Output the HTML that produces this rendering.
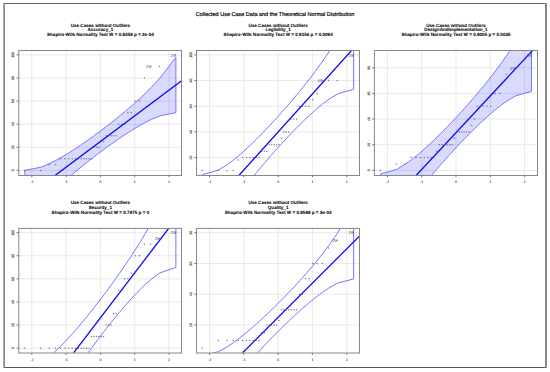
<!DOCTYPE html>
<html><head><meta charset="utf-8"><style>
html,body{margin:0;padding:0;background:#fff;width:550px;height:372px;overflow:hidden}
svg{display:block;font-family:"Liberation Sans", sans-serif;text-rendering:geometricPrecision}
</style></head><body>
<svg width="550" height="372" viewBox="0 0 550 372">
<rect width="550" height="372" fill="#fff"/>
<clipPath id="c00"><rect x="18.9" y="50.3" width="163" height="124.7"/></clipPath>
<path d="M31.8 50.3V175M66.1 50.3V175M100.4 50.3V175M134.7 50.3V175M169 50.3V175M18.9 170.38H181.9M18.9 147.29H181.9M18.9 124.2H181.9M18.9 101.1H181.9M18.9 78.01H181.9M18.9 54.92H181.9" stroke="#e2e2e2" stroke-width="0.75" fill="none"/>
<path clip-path="url(#c00)" d="M24.92 170.32 41 167.16 49.64 163.54 55.89 160.38 60.94 157.58 65.26 155.04 69.07 152.69 72.54 150.5 75.74 148.41 78.74 146.42 81.58 144.49 84.3 142.62 86.93 140.79 89.47 138.99 91.96 137.21 94.4 135.44 96.81 133.67 99.21 131.89 101.59 130.11 103.99 128.29 106.4 126.45 108.84 124.56 111.33 122.62 113.87 120.61 116.5 118.52 119.22 116.32 122.06 113.99 125.06 111.49 128.26 108.78 131.73 105.79 135.54 102.42 139.86 98.5 144.91 93.74 151.16 87.53 159.8 78.23 175.88 57.31 175.88 112.71 159.8 115.87 151.16 119.49 144.91 122.65 139.86 125.45 135.54 127.99 131.73 130.34 128.26 132.53 125.06 134.62 122.06 136.61 119.22 138.54 116.5 140.41 113.87 142.24 111.33 144.04 108.84 145.82 106.4 147.6 103.99 149.36 101.59 151.14 99.21 152.93 96.81 154.74 94.4 156.58 91.96 158.47 89.47 160.41 86.93 162.42 84.3 164.51 81.58 166.71 78.74 169.04 75.74 171.54 72.54 174.25 69.07 177.24 65.26 180.61 60.94 184.53 55.89 189.29 49.64 195.5 41 204.8 24.92 225.72Z" fill="#0000ff" fill-opacity="0.145" stroke="#7474ff" stroke-width="1"/>
<line clip-path="url(#c00)" x1="18.9" y1="202.53" x2="181.9" y2="80.5" stroke="#0808f8" stroke-width="1.3"/>
<g fill="#555566" fill-opacity="0.75"><circle cx="24.52" cy="170.38" r="0.75"/><circle cx="40.6" cy="170.38" r="0.75"/><circle cx="49.24" cy="164.61" r="0.75"/><circle cx="55.49" cy="164.61" r="0.75"/><circle cx="60.54" cy="158.84" r="0.75"/><circle cx="64.86" cy="158.84" r="0.75"/><circle cx="68.67" cy="158.84" r="0.75"/><circle cx="72.14" cy="158.84" r="0.75"/><circle cx="75.34" cy="158.84" r="0.75"/><circle cx="78.34" cy="158.84" r="0.75"/><circle cx="81.18" cy="158.84" r="0.75"/><circle cx="83.9" cy="158.84" r="0.75"/><circle cx="86.53" cy="158.84" r="0.75"/><circle cx="89.07" cy="158.84" r="0.75"/><circle cx="91.56" cy="158.84" r="0.75"/><circle cx="94" cy="147.29" r="0.75"/><circle cx="96.41" cy="147.29" r="0.75"/><circle cx="98.81" cy="147.29" r="0.75"/><circle cx="101.19" cy="141.52" r="0.75"/><circle cx="103.59" cy="141.52" r="0.75"/><circle cx="106" cy="135.74" r="0.75"/><circle cx="108.44" cy="135.74" r="0.75"/><circle cx="110.93" cy="135.74" r="0.75"/><circle cx="113.47" cy="135.74" r="0.75"/><circle cx="116.1" cy="135.74" r="0.75"/><circle cx="118.82" cy="124.2" r="0.75"/><circle cx="121.66" cy="124.2" r="0.75"/><circle cx="124.66" cy="124.2" r="0.75"/><circle cx="127.86" cy="112.65" r="0.75"/><circle cx="131.33" cy="112.65" r="0.75"/><circle cx="135.14" cy="101.1" r="0.75"/><circle cx="139.46" cy="101.1" r="0.75"/><circle cx="144.51" cy="78.01" r="0.75"/><circle cx="150.76" cy="66.46" r="0.75"/><circle cx="159.4" cy="66.46" r="0.75"/><circle cx="175.48" cy="54.92" r="0.75"/></g>
<text x="175.48" y="56.72" font-size="4.2" text-anchor="end" fill="#555">26</text>
<text x="150.76" y="68.26" font-size="4.2" text-anchor="end" fill="#555">25</text>
<rect x="18.8" y="50.5" width="162.7" height="125" fill="none" stroke="#878787" stroke-width="1"/>
<path d="M31.8 175.5v1.8M66.1 175.5v1.8M100.4 175.5v1.8M134.7 175.5v1.8M169 175.5v1.8M18.8 170.38h-2.2M18.8 147.29h-2.2M18.8 124.2h-2.2M18.8 101.1h-2.2M18.8 78.01h-2.2M18.8 54.92h-2.2" stroke="#555" stroke-width="0.8" fill="none"/>
<text x="31.8" y="182.8" font-size="3.5" text-anchor="middle" fill="#333" stroke="#444" stroke-width="0.1">-2</text>
<text x="66.1" y="182.8" font-size="3.5" text-anchor="middle" fill="#333" stroke="#444" stroke-width="0.1">-1</text>
<text x="100.4" y="182.8" font-size="3.5" text-anchor="middle" fill="#333" stroke="#444" stroke-width="0.1">0</text>
<text x="134.7" y="182.8" font-size="3.5" text-anchor="middle" fill="#333" stroke="#444" stroke-width="0.1">1</text>
<text x="169" y="182.8" font-size="3.5" text-anchor="middle" fill="#333" stroke="#444" stroke-width="0.1">2</text>
<text transform="translate(14.05 170.38) rotate(-90)" font-size="3.5" text-anchor="middle" fill="#333" stroke="#444" stroke-width="0.1">0</text>
<text transform="translate(14.05 147.29) rotate(-90)" font-size="3.5" text-anchor="middle" fill="#333" stroke="#444" stroke-width="0.1">20</text>
<text transform="translate(14.05 124.2) rotate(-90)" font-size="3.5" text-anchor="middle" fill="#333" stroke="#444" stroke-width="0.1">40</text>
<text transform="translate(14.05 101.1) rotate(-90)" font-size="3.5" text-anchor="middle" fill="#333" stroke="#444" stroke-width="0.1">60</text>
<text transform="translate(14.05 78.01) rotate(-90)" font-size="3.5" text-anchor="middle" fill="#333" stroke="#444" stroke-width="0.1">80</text>
<text transform="translate(14.05 54.92) rotate(-90)" font-size="3.5" text-anchor="middle" fill="#333" stroke="#444" stroke-width="0.1">100</text>
<text x="100.4" y="26.5" font-size="4.6" font-weight="bold" text-anchor="middle" fill="#000" stroke="#000" stroke-width="0.05">Use Cases without Outliers</text>
<text x="100.4" y="31" font-size="4.6" font-weight="bold" text-anchor="middle" fill="#000" stroke="#000" stroke-width="0.05">Accuracy_1</text>
<text x="100.4" y="36.1" font-size="4.6" font-weight="bold" text-anchor="middle" fill="#000" stroke="#000" stroke-width="0.05">Shapiro-Wilk Normality Test W = 0.8458 p = 2e-04</text>
<clipPath id="c10"><rect x="196.65" y="50.3" width="163" height="124.7"/></clipPath>
<path d="M209.55 50.3V175M243.85 50.3V175M278.15 50.3V175M312.45 50.3V175M346.75 50.3V175M196.65 157.55H359.65M196.65 131.89H359.65M196.65 106.24H359.65M196.65 80.58H359.65M196.65 54.92H359.65" stroke="#e2e2e2" stroke-width="0.75" fill="none"/>
<path clip-path="url(#c10)" d="M202.67 174.56 218.75 169.89 227.39 164.52 233.64 159.84 238.69 155.69 243.01 151.93 246.82 148.45 250.29 145.2 253.49 142.11 256.49 139.16 259.33 136.3 262.05 133.53 264.68 130.82 267.22 128.15 269.71 125.51 272.15 122.89 274.56 120.27 276.96 117.64 279.34 114.99 281.74 112.31 284.15 109.58 286.59 106.78 289.08 103.91 291.62 100.93 294.25 97.83 296.97 94.57 299.81 91.12 302.81 87.42 306.01 83.41 309.48 78.98 313.29 73.98 317.61 68.17 322.66 61.12 328.91 51.93 337.55 38.15 353.63 7.16 353.63 89.22 337.55 93.9 328.91 99.27 322.66 103.95 317.61 108.1 313.29 111.86 309.48 115.33 306.01 118.59 302.81 121.68 299.81 124.63 296.97 127.48 294.25 130.26 291.62 132.97 289.08 135.64 286.59 138.28 284.15 140.9 281.74 143.52 279.34 146.15 276.96 148.8 274.56 151.48 272.15 154.21 269.71 157 267.22 159.88 264.68 162.85 262.05 165.96 259.33 169.21 256.49 172.67 253.49 176.37 250.29 180.38 246.82 184.81 243.01 189.81 238.69 195.61 233.64 202.66 227.39 211.86 218.75 225.64 202.67 256.62Z" fill="none" stroke="#7474ff" stroke-width="1"/>
<line clip-path="url(#c10)" x1="196.65" y1="222.27" x2="359.65" y2="41.51" stroke="#0808f8" stroke-width="1.3"/>
<g fill="#555566" fill-opacity="0.75"><circle cx="202.27" cy="170.38" r="0.75"/><circle cx="218.35" cy="170.38" r="0.75"/><circle cx="226.99" cy="170.38" r="0.75"/><circle cx="233.24" cy="170.38" r="0.75"/><circle cx="238.29" cy="160.12" r="0.75"/><circle cx="242.61" cy="157.55" r="0.75"/><circle cx="246.42" cy="157.55" r="0.75"/><circle cx="249.89" cy="157.55" r="0.75"/><circle cx="253.09" cy="157.55" r="0.75"/><circle cx="256.09" cy="157.55" r="0.75"/><circle cx="258.93" cy="157.55" r="0.75"/><circle cx="261.65" cy="151.14" r="0.75"/><circle cx="264.28" cy="151.14" r="0.75"/><circle cx="266.82" cy="151.14" r="0.75"/><circle cx="269.31" cy="144.72" r="0.75"/><circle cx="271.75" cy="144.72" r="0.75"/><circle cx="274.16" cy="144.72" r="0.75"/><circle cx="276.56" cy="144.72" r="0.75"/><circle cx="278.94" cy="144.72" r="0.75"/><circle cx="281.34" cy="138.31" r="0.75"/><circle cx="283.75" cy="131.89" r="0.75"/><circle cx="286.19" cy="131.89" r="0.75"/><circle cx="288.68" cy="131.89" r="0.75"/><circle cx="291.22" cy="119.06" r="0.75"/><circle cx="293.85" cy="119.06" r="0.75"/><circle cx="296.57" cy="119.06" r="0.75"/><circle cx="299.41" cy="106.24" r="0.75"/><circle cx="302.41" cy="106.24" r="0.75"/><circle cx="305.61" cy="106.24" r="0.75"/><circle cx="309.08" cy="106.24" r="0.75"/><circle cx="312.89" cy="99.82" r="0.75"/><circle cx="317.21" cy="93.41" r="0.75"/><circle cx="322.26" cy="80.58" r="0.75"/><circle cx="328.51" cy="80.58" r="0.75"/><circle cx="337.15" cy="80.58" r="0.75"/><circle cx="353.23" cy="54.92" r="0.75"/></g>
<text x="353.23" y="56.72" font-size="4.2" text-anchor="end" fill="#555">26</text>
<text x="322.26" y="82.38" font-size="4.2" text-anchor="end" fill="#555">50</text>
<rect x="196.5" y="50.5" width="163" height="125" fill="none" stroke="#878787" stroke-width="1"/>
<path d="M209.55 175.5v1.8M243.85 175.5v1.8M278.15 175.5v1.8M312.45 175.5v1.8M346.75 175.5v1.8M196.5 157.55h-2.2M196.5 131.89h-2.2M196.5 106.24h-2.2M196.5 80.58h-2.2M196.5 54.92h-2.2" stroke="#555" stroke-width="0.8" fill="none"/>
<text x="209.55" y="182.8" font-size="3.5" text-anchor="middle" fill="#333" stroke="#444" stroke-width="0.1">-2</text>
<text x="243.85" y="182.8" font-size="3.5" text-anchor="middle" fill="#333" stroke="#444" stroke-width="0.1">-1</text>
<text x="278.15" y="182.8" font-size="3.5" text-anchor="middle" fill="#333" stroke="#444" stroke-width="0.1">0</text>
<text x="312.45" y="182.8" font-size="3.5" text-anchor="middle" fill="#333" stroke="#444" stroke-width="0.1">1</text>
<text x="346.75" y="182.8" font-size="3.5" text-anchor="middle" fill="#333" stroke="#444" stroke-width="0.1">2</text>
<text transform="translate(191.75 157.55) rotate(-90)" font-size="3.5" text-anchor="middle" fill="#333" stroke="#444" stroke-width="0.1">20</text>
<text transform="translate(191.75 131.89) rotate(-90)" font-size="3.5" text-anchor="middle" fill="#333" stroke="#444" stroke-width="0.1">40</text>
<text transform="translate(191.75 106.24) rotate(-90)" font-size="3.5" text-anchor="middle" fill="#333" stroke="#444" stroke-width="0.1">60</text>
<text transform="translate(191.75 80.58) rotate(-90)" font-size="3.5" text-anchor="middle" fill="#333" stroke="#444" stroke-width="0.1">80</text>
<text transform="translate(191.75 54.92) rotate(-90)" font-size="3.5" text-anchor="middle" fill="#333" stroke="#444" stroke-width="0.1">100</text>
<text x="278.15" y="26.5" font-size="4.6" font-weight="bold" text-anchor="middle" fill="#000" stroke="#000" stroke-width="0.05">Use Cases without Outliers</text>
<text x="278.15" y="31" font-size="4.6" font-weight="bold" text-anchor="middle" fill="#000" stroke="#000" stroke-width="0.05">Legibility_1</text>
<text x="278.15" y="36.1" font-size="4.6" font-weight="bold" text-anchor="middle" fill="#000" stroke="#000" stroke-width="0.05">Shapiro-Wilk Normality Test W = 0.9156 p = 0.0094</text>
<clipPath id="c20"><rect x="374.5" y="50.3" width="163" height="124.7"/></clipPath>
<path d="M387.4 50.3V175M421.7 50.3V175M456 50.3V175M490.3 50.3V175M524.6 50.3V175M374.5 170.38H537.5M374.5 144.72H537.5M374.5 119.06H537.5M374.5 93.41H537.5M374.5 67.75H537.5" stroke="#e2e2e2" stroke-width="0.75" fill="none"/>
<path clip-path="url(#c20)" d="M380.52 173.95 396.6 169.43 405.24 164.23 411.49 159.7 416.54 155.69 420.86 152.05 424.67 148.69 428.14 145.54 431.34 142.55 434.34 139.69 437.18 136.93 439.9 134.25 442.53 131.62 445.07 129.04 447.56 126.49 450 123.95 452.41 121.42 454.81 118.87 457.19 116.31 459.59 113.71 462 111.07 464.44 108.37 466.93 105.58 469.47 102.71 472.1 99.7 474.82 96.55 477.66 93.21 480.66 89.63 483.86 85.75 487.33 81.46 491.14 76.62 495.46 71.01 500.51 64.18 506.76 55.29 515.4 41.95 531.48 11.97 531.48 91.37 515.4 95.9 506.76 101.1 500.51 105.62 495.46 109.64 491.14 113.28 487.33 116.64 483.86 119.79 480.66 122.78 477.66 125.64 474.82 128.4 472.1 131.08 469.47 133.7 466.93 136.29 464.44 138.84 462 141.38 459.59 143.91 457.19 146.45 454.81 149.02 452.41 151.61 450 154.26 447.56 156.96 445.07 159.74 442.53 162.62 439.9 165.62 437.18 168.78 434.34 172.12 431.34 175.7 428.14 179.58 424.67 183.87 420.86 188.7 416.54 194.32 411.49 201.14 405.24 210.04 396.6 223.37 380.52 253.36Z" fill="#0000ff" fill-opacity="0.145" stroke="#7474ff" stroke-width="1"/>
<line clip-path="url(#c20)" x1="374.5" y1="220.12" x2="537.5" y2="45.21" stroke="#0808f8" stroke-width="1.3"/>
<g fill="#555566" fill-opacity="0.75"><circle cx="380.12" cy="170.38" r="0.75"/><circle cx="396.2" cy="163.97" r="0.75"/><circle cx="404.84" cy="163.97" r="0.75"/><circle cx="411.09" cy="157.55" r="0.75"/><circle cx="416.14" cy="157.55" r="0.75"/><circle cx="420.46" cy="157.55" r="0.75"/><circle cx="424.27" cy="157.55" r="0.75"/><circle cx="427.74" cy="157.55" r="0.75"/><circle cx="430.94" cy="157.55" r="0.75"/><circle cx="433.94" cy="157.55" r="0.75"/><circle cx="436.78" cy="151.14" r="0.75"/><circle cx="439.5" cy="144.72" r="0.75"/><circle cx="442.13" cy="144.72" r="0.75"/><circle cx="444.67" cy="144.72" r="0.75"/><circle cx="447.16" cy="144.72" r="0.75"/><circle cx="449.6" cy="144.72" r="0.75"/><circle cx="452.01" cy="144.72" r="0.75"/><circle cx="454.41" cy="138.31" r="0.75"/><circle cx="456.79" cy="131.89" r="0.75"/><circle cx="459.19" cy="131.89" r="0.75"/><circle cx="461.6" cy="131.89" r="0.75"/><circle cx="464.04" cy="131.89" r="0.75"/><circle cx="466.53" cy="131.89" r="0.75"/><circle cx="469.07" cy="131.89" r="0.75"/><circle cx="471.7" cy="125.48" r="0.75"/><circle cx="474.42" cy="119.06" r="0.75"/><circle cx="477.26" cy="106.24" r="0.75"/><circle cx="480.26" cy="106.24" r="0.75"/><circle cx="483.46" cy="106.24" r="0.75"/><circle cx="486.93" cy="106.24" r="0.75"/><circle cx="490.74" cy="106.24" r="0.75"/><circle cx="495.06" cy="93.41" r="0.75"/><circle cx="500.11" cy="93.41" r="0.75"/><circle cx="506.36" cy="74.16" r="0.75"/><circle cx="515" cy="67.75" r="0.75"/><circle cx="531.08" cy="54.92" r="0.75"/></g>
<text x="531.08" y="56.72" font-size="4.2" text-anchor="end" fill="#555">26</text>
<text x="515" y="69.55" font-size="4.2" text-anchor="end" fill="#555">50</text>
<rect x="374.4" y="50.5" width="163.1" height="125" fill="none" stroke="#878787" stroke-width="1"/>
<path d="M387.4 175.5v1.8M421.7 175.5v1.8M456 175.5v1.8M490.3 175.5v1.8M524.6 175.5v1.8M374.4 170.38h-2.2M374.4 144.72h-2.2M374.4 119.06h-2.2M374.4 93.41h-2.2M374.4 67.75h-2.2" stroke="#555" stroke-width="0.8" fill="none"/>
<text x="387.4" y="182.8" font-size="3.5" text-anchor="middle" fill="#333" stroke="#444" stroke-width="0.1">-2</text>
<text x="421.7" y="182.8" font-size="3.5" text-anchor="middle" fill="#333" stroke="#444" stroke-width="0.1">-1</text>
<text x="456" y="182.8" font-size="3.5" text-anchor="middle" fill="#333" stroke="#444" stroke-width="0.1">0</text>
<text x="490.3" y="182.8" font-size="3.5" text-anchor="middle" fill="#333" stroke="#444" stroke-width="0.1">1</text>
<text x="524.6" y="182.8" font-size="3.5" text-anchor="middle" fill="#333" stroke="#444" stroke-width="0.1">2</text>
<text transform="translate(369.65 170.38) rotate(-90)" font-size="3.5" text-anchor="middle" fill="#333" stroke="#444" stroke-width="0.1">0</text>
<text transform="translate(369.65 144.72) rotate(-90)" font-size="3.5" text-anchor="middle" fill="#333" stroke="#444" stroke-width="0.1">20</text>
<text transform="translate(369.65 119.06) rotate(-90)" font-size="3.5" text-anchor="middle" fill="#333" stroke="#444" stroke-width="0.1">40</text>
<text transform="translate(369.65 93.41) rotate(-90)" font-size="3.5" text-anchor="middle" fill="#333" stroke="#444" stroke-width="0.1">60</text>
<text transform="translate(369.65 67.75) rotate(-90)" font-size="3.5" text-anchor="middle" fill="#333" stroke="#444" stroke-width="0.1">80</text>
<text x="456" y="26.5" font-size="4.6" font-weight="bold" text-anchor="middle" fill="#000" stroke="#000" stroke-width="0.05">Use Cases without Outliers</text>
<text x="456" y="31" font-size="4.6" font-weight="bold" text-anchor="middle" fill="#000" stroke="#000" stroke-width="0.05">DesignAndImplementation_1</text>
<text x="456" y="36.1" font-size="4.6" font-weight="bold" text-anchor="middle" fill="#000" stroke="#000" stroke-width="0.05">Shapiro-Wilk Normality Test W = 0.9005 p = 0.0035</text>
<clipPath id="c01"><rect x="18.9" y="228.05" width="163" height="124.7"/></clipPath>
<path d="M31.8 228.05V352.75M66.1 228.05V352.75M100.4 228.05V352.75M134.7 228.05V352.75M169 228.05V352.75M18.9 348.13H181.9M18.9 325.04H181.9M18.9 301.95H181.9M18.9 278.85H181.9M18.9 255.76H181.9M18.9 232.67H181.9" stroke="#e2e2e2" stroke-width="0.75" fill="none"/>
<path clip-path="url(#c01)" d="M24.92 368.23 41 362.71 49.64 356.36 55.89 350.83 60.94 345.93 65.26 341.49 69.07 337.38 72.54 333.54 75.74 329.89 78.74 326.4 81.58 323.03 84.3 319.76 86.93 316.55 89.47 313.4 91.96 310.28 94.4 307.18 96.81 304.09 99.21 300.98 101.59 297.86 103.99 294.69 106.4 291.46 108.84 288.16 111.33 284.76 113.87 281.25 116.5 277.58 119.22 273.73 122.06 269.65 125.06 265.28 128.26 260.54 131.73 255.31 135.54 249.4 139.86 242.54 144.91 234.22 151.16 223.35 159.8 207.07 175.88 170.47 175.88 267.41 159.8 272.94 151.16 279.28 144.91 284.81 139.86 289.71 135.54 294.16 131.73 298.26 128.26 302.11 125.06 305.75 122.06 309.24 119.22 312.61 116.5 315.89 113.87 319.09 111.33 322.25 108.84 325.36 106.4 328.46 103.99 331.56 101.59 334.66 99.21 337.79 96.81 340.96 94.4 344.19 91.96 347.49 89.47 350.88 86.93 354.4 84.3 358.06 81.58 361.91 78.74 365.99 75.74 370.36 72.54 375.11 69.07 380.34 65.26 386.24 60.94 393.1 55.89 401.43 49.64 412.29 41 428.57 24.92 465.18Z" fill="none" stroke="#7474ff" stroke-width="1"/>
<line clip-path="url(#c01)" x1="18.9" y1="424.6" x2="181.9" y2="211.05" stroke="#0808f8" stroke-width="1.3"/>
<g fill="#555566" fill-opacity="0.75"><circle cx="24.52" cy="348.13" r="0.75"/><circle cx="40.6" cy="348.13" r="0.75"/><circle cx="49.24" cy="348.13" r="0.75"/><circle cx="55.49" cy="348.13" r="0.75"/><circle cx="60.54" cy="348.13" r="0.75"/><circle cx="64.86" cy="348.13" r="0.75"/><circle cx="68.67" cy="348.13" r="0.75"/><circle cx="72.14" cy="348.13" r="0.75"/><circle cx="75.34" cy="348.13" r="0.75"/><circle cx="78.34" cy="348.13" r="0.75"/><circle cx="81.18" cy="348.13" r="0.75"/><circle cx="83.9" cy="348.13" r="0.75"/><circle cx="86.53" cy="348.13" r="0.75"/><circle cx="89.07" cy="348.13" r="0.75"/><circle cx="91.56" cy="336.59" r="0.75"/><circle cx="94" cy="336.59" r="0.75"/><circle cx="96.41" cy="336.59" r="0.75"/><circle cx="98.81" cy="336.59" r="0.75"/><circle cx="101.19" cy="336.59" r="0.75"/><circle cx="103.59" cy="336.59" r="0.75"/><circle cx="106" cy="325.04" r="0.75"/><circle cx="108.44" cy="325.04" r="0.75"/><circle cx="110.93" cy="325.04" r="0.75"/><circle cx="113.47" cy="313.49" r="0.75"/><circle cx="116.1" cy="313.49" r="0.75"/><circle cx="118.82" cy="290.4" r="0.75"/><circle cx="121.66" cy="290.4" r="0.75"/><circle cx="124.66" cy="278.85" r="0.75"/><circle cx="127.86" cy="278.85" r="0.75"/><circle cx="131.33" cy="273.08" r="0.75"/><circle cx="135.14" cy="255.76" r="0.75"/><circle cx="139.46" cy="255.76" r="0.75"/><circle cx="144.51" cy="244.21" r="0.75"/><circle cx="150.76" cy="244.21" r="0.75"/><circle cx="159.4" cy="238.44" r="0.75"/><circle cx="175.48" cy="232.67" r="0.75"/></g>
<text x="175.48" y="234.47" font-size="4.2" text-anchor="end" fill="#555">26</text>
<text x="159.4" y="240.24" font-size="4.2" text-anchor="end" fill="#555">25</text>
<rect x="18.8" y="228.4" width="162.7" height="124.6" fill="none" stroke="#878787" stroke-width="1"/>
<path d="M31.8 353v1.8M66.1 353v1.8M100.4 353v1.8M134.7 353v1.8M169 353v1.8M18.8 348.13h-2.2M18.8 325.04h-2.2M18.8 301.95h-2.2M18.8 278.85h-2.2M18.8 255.76h-2.2M18.8 232.67h-2.2" stroke="#555" stroke-width="0.8" fill="none"/>
<text x="31.8" y="360.55" font-size="3.5" text-anchor="middle" fill="#333" stroke="#444" stroke-width="0.1">-2</text>
<text x="66.1" y="360.55" font-size="3.5" text-anchor="middle" fill="#333" stroke="#444" stroke-width="0.1">-1</text>
<text x="100.4" y="360.55" font-size="3.5" text-anchor="middle" fill="#333" stroke="#444" stroke-width="0.1">0</text>
<text x="134.7" y="360.55" font-size="3.5" text-anchor="middle" fill="#333" stroke="#444" stroke-width="0.1">1</text>
<text x="169" y="360.55" font-size="3.5" text-anchor="middle" fill="#333" stroke="#444" stroke-width="0.1">2</text>
<text transform="translate(14.05 348.13) rotate(-90)" font-size="3.5" text-anchor="middle" fill="#333" stroke="#444" stroke-width="0.1">0</text>
<text transform="translate(14.05 325.04) rotate(-90)" font-size="3.5" text-anchor="middle" fill="#333" stroke="#444" stroke-width="0.1">20</text>
<text transform="translate(14.05 301.95) rotate(-90)" font-size="3.5" text-anchor="middle" fill="#333" stroke="#444" stroke-width="0.1">40</text>
<text transform="translate(14.05 278.85) rotate(-90)" font-size="3.5" text-anchor="middle" fill="#333" stroke="#444" stroke-width="0.1">60</text>
<text transform="translate(14.05 255.76) rotate(-90)" font-size="3.5" text-anchor="middle" fill="#333" stroke="#444" stroke-width="0.1">80</text>
<text transform="translate(14.05 232.67) rotate(-90)" font-size="3.5" text-anchor="middle" fill="#333" stroke="#444" stroke-width="0.1">100</text>
<text x="100.4" y="204.25" font-size="4.6" font-weight="bold" text-anchor="middle" fill="#000" stroke="#000" stroke-width="0.05">Use Cases without Outliers</text>
<text x="100.4" y="208.75" font-size="4.6" font-weight="bold" text-anchor="middle" fill="#000" stroke="#000" stroke-width="0.05">Security_1</text>
<text x="100.4" y="213.85" font-size="4.6" font-weight="bold" text-anchor="middle" fill="#000" stroke="#000" stroke-width="0.05">Shapiro-Wilk Normality Test W = 0.7875 p = 0</text>
<clipPath id="c11"><rect x="196.65" y="228.05" width="163" height="124.7"/></clipPath>
<path d="M209.55 228.05V352.75M243.85 228.05V352.75M278.15 228.05V352.75M312.45 228.05V352.75M346.75 228.05V352.75M196.65 325.04H359.65M196.65 294.25H359.65M196.65 263.46H359.65M196.65 232.67H359.65" stroke="#e2e2e2" stroke-width="0.75" fill="none"/>
<path clip-path="url(#c11)" d="M202.67 355.75 218.75 351.54 227.39 346.71 233.64 342.49 238.69 338.76 243.01 335.37 246.82 332.25 250.29 329.32 253.49 326.54 256.49 323.88 259.33 321.31 262.05 318.81 264.68 316.37 267.22 313.97 269.71 311.6 272.15 309.24 274.56 306.88 276.96 304.51 279.34 302.13 281.74 299.71 284.15 297.25 286.59 294.74 289.08 292.15 291.62 289.47 294.25 286.68 296.97 283.75 299.81 280.64 302.81 277.31 306.01 273.7 309.48 269.71 313.29 265.21 317.61 259.99 322.66 253.64 328.91 245.36 337.55 232.96 353.63 205.07 353.63 278.93 337.55 283.14 328.91 287.98 322.66 292.19 317.61 295.92 313.29 299.31 309.48 302.44 306.01 305.37 302.81 308.15 299.81 310.81 296.97 313.37 294.25 315.87 291.62 318.31 289.08 320.71 286.59 323.09 284.15 325.45 281.74 327.8 279.34 330.17 276.96 332.55 274.56 334.97 272.15 337.43 269.71 339.94 267.22 342.53 264.68 345.21 262.05 348 259.33 350.93 256.49 354.04 253.49 357.37 250.29 360.99 246.82 364.97 243.01 369.47 238.69 374.7 233.64 381.04 227.39 389.32 218.75 401.72 202.67 429.61Z" fill="none" stroke="#7474ff" stroke-width="1"/>
<line clip-path="url(#c11)" x1="196.65" y1="398.69" x2="359.65" y2="235.99" stroke="#0808f8" stroke-width="1.3"/>
<g fill="#555566" fill-opacity="0.75"><circle cx="202.27" cy="348.13" r="0.75"/><circle cx="218.35" cy="340.43" r="0.75"/><circle cx="226.99" cy="340.43" r="0.75"/><circle cx="233.24" cy="340.43" r="0.75"/><circle cx="238.29" cy="340.43" r="0.75"/><circle cx="242.61" cy="340.43" r="0.75"/><circle cx="246.42" cy="340.43" r="0.75"/><circle cx="249.89" cy="340.43" r="0.75"/><circle cx="253.09" cy="340.43" r="0.75"/><circle cx="256.09" cy="340.43" r="0.75"/><circle cx="258.93" cy="340.43" r="0.75"/><circle cx="261.65" cy="332.74" r="0.75"/><circle cx="264.28" cy="332.74" r="0.75"/><circle cx="266.82" cy="325.04" r="0.75"/><circle cx="269.31" cy="325.04" r="0.75"/><circle cx="271.75" cy="325.04" r="0.75"/><circle cx="274.16" cy="325.04" r="0.75"/><circle cx="276.56" cy="325.04" r="0.75"/><circle cx="278.94" cy="320.42" r="0.75"/><circle cx="281.34" cy="309.64" r="0.75"/><circle cx="283.75" cy="309.64" r="0.75"/><circle cx="286.19" cy="309.64" r="0.75"/><circle cx="288.68" cy="309.64" r="0.75"/><circle cx="291.22" cy="309.64" r="0.75"/><circle cx="293.85" cy="309.64" r="0.75"/><circle cx="296.57" cy="309.64" r="0.75"/><circle cx="299.41" cy="294.25" r="0.75"/><circle cx="302.41" cy="294.25" r="0.75"/><circle cx="305.61" cy="278.85" r="0.75"/><circle cx="309.08" cy="278.85" r="0.75"/><circle cx="312.89" cy="263.46" r="0.75"/><circle cx="317.21" cy="263.46" r="0.75"/><circle cx="322.26" cy="263.46" r="0.75"/><circle cx="328.51" cy="248.06" r="0.75"/><circle cx="337.15" cy="240.37" r="0.75"/><circle cx="353.23" cy="232.67" r="0.75"/></g>
<text x="353.23" y="234.47" font-size="4.2" text-anchor="end" fill="#555">26</text>
<text x="337.15" y="242.17" font-size="4.2" text-anchor="end" fill="#555">25</text>
<rect x="196.5" y="228.4" width="163" height="124.6" fill="none" stroke="#878787" stroke-width="1"/>
<path d="M209.55 353v1.8M243.85 353v1.8M278.15 353v1.8M312.45 353v1.8M346.75 353v1.8M196.5 325.04h-2.2M196.5 294.25h-2.2M196.5 263.46h-2.2M196.5 232.67h-2.2" stroke="#555" stroke-width="0.8" fill="none"/>
<text x="209.55" y="360.55" font-size="3.5" text-anchor="middle" fill="#333" stroke="#444" stroke-width="0.1">-2</text>
<text x="243.85" y="360.55" font-size="3.5" text-anchor="middle" fill="#333" stroke="#444" stroke-width="0.1">-1</text>
<text x="278.15" y="360.55" font-size="3.5" text-anchor="middle" fill="#333" stroke="#444" stroke-width="0.1">0</text>
<text x="312.45" y="360.55" font-size="3.5" text-anchor="middle" fill="#333" stroke="#444" stroke-width="0.1">1</text>
<text x="346.75" y="360.55" font-size="3.5" text-anchor="middle" fill="#333" stroke="#444" stroke-width="0.1">2</text>
<text transform="translate(191.75 325.04) rotate(-90)" font-size="3.5" text-anchor="middle" fill="#333" stroke="#444" stroke-width="0.1">20</text>
<text transform="translate(191.75 294.25) rotate(-90)" font-size="3.5" text-anchor="middle" fill="#333" stroke="#444" stroke-width="0.1">40</text>
<text transform="translate(191.75 263.46) rotate(-90)" font-size="3.5" text-anchor="middle" fill="#333" stroke="#444" stroke-width="0.1">60</text>
<text transform="translate(191.75 232.67) rotate(-90)" font-size="3.5" text-anchor="middle" fill="#333" stroke="#444" stroke-width="0.1">80</text>
<text x="278.15" y="204.25" font-size="4.6" font-weight="bold" text-anchor="middle" fill="#000" stroke="#000" stroke-width="0.05">Use Cases without Outliers</text>
<text x="278.15" y="208.75" font-size="4.6" font-weight="bold" text-anchor="middle" fill="#000" stroke="#000" stroke-width="0.05">Quality_1</text>
<text x="278.15" y="213.85" font-size="4.6" font-weight="bold" text-anchor="middle" fill="#000" stroke="#000" stroke-width="0.05">Shapiro-Wilk Normality Test W = 0.8598 p = 3e-04</text>
<text x="275" y="15.8" font-size="5.5" text-anchor="middle" fill="#000" stroke="#000" stroke-width="0.18">Collected Use Case Data and the Theoretical Normal Distribution</text>
<rect x="3" y="3" width="544" height="1" fill="#666"/>
<rect x="3" y="367" width="544" height="1" fill="#555"/>
<rect x="3" y="3" width="1" height="365" fill="#a8a8a8"/>
<rect x="4" y="3" width="1" height="365" fill="#8a8a8a"/>
<rect x="545" y="3" width="2" height="365" fill="#8a8a8a"/>
</svg>
</body></html>
